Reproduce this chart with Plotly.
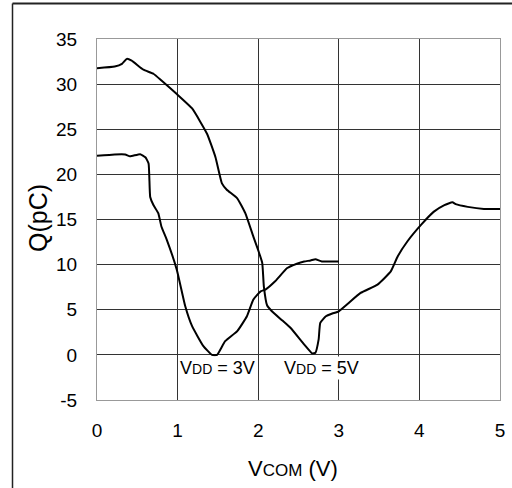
import plotly.graph_objects as go

# VDD = 3V curve
x_3v = [0.0, 0.22, 0.35, 0.41, 0.535, 0.6, 0.64, 0.66, 0.70, 0.76, 0.80, 0.866, 0.99, 1.095, 1.18, 1.32,
        1.427, 1.49, 1.59, 1.74, 1.86, 1.94, 2.03, 2.09, 2.21, 2.36, 2.48, 2.57, 2.65, 2.71, 2.79, 3.0]
q_3v = [22.05, 22.2, 22.2, 22.0, 22.24, 21.9, 21.2, 17.5, 16.6, 15.7, 14.2, 12.75, 9.44, 5.39, 3.18, 0.97,
        0.0, 0.0, 1.52, 2.63, 4.28, 6.13, 7.04, 7.23, 8.15, 9.62, 10.1, 10.35, 10.46, 10.6, 10.35, 10.35]

# VDD = 5V curve
x_5v = [0.0, 0.22, 0.31, 0.37, 0.43, 0.576, 0.70, 0.80, 0.99, 1.18, 1.365, 1.47, 1.55, 1.61, 1.74, 1.84,
        1.94, 2.0, 2.05, 2.07, 2.11, 2.17, 2.30, 2.40, 2.57, 2.67, 2.71, 2.75, 2.77, 2.84, 2.92, 3.0,
        3.27, 3.48, 3.645, 3.73, 3.85, 4.02, 4.18, 4.31, 4.41, 4.45, 4.60, 4.80, 5.0]
q_5v = [31.77, 31.95, 32.25, 32.8, 32.6, 31.6, 31.15, 30.4, 28.9, 27.3, 24.5, 21.9, 19.0, 18.3, 17.35, 15.7,
        13.1, 11.6, 10.2, 7.6, 5.5, 4.83, 3.8, 3.0, 1.16, 0.17, 0.24, 1.71, 3.55, 4.28, 4.58, 4.83,
        6.86, 7.78, 9.25, 10.9, 12.56, 14.4, 15.87, 16.6, 16.9, 16.7, 16.4, 16.17, 16.17]

x_ticks = [0, 1, 2, 3, 4, 5]
y_ticks = [-5, 0, 5, 10, 15, 20, 25, 30, 35]
y_tick_labels = ["-5", "0", "5", "10", "15", "20", "25", "30", "35"]

FONT = "Arial, Liberation Sans, sans-serif"

fig = go.Figure()
fig.add_trace(go.Scatter(x=x_3v, y=q_3v, mode="lines",
                         line=dict(color="black", width=2, shape="spline", smoothing=0.4),
                         showlegend=False, hoverinfo="skip"))
fig.add_trace(go.Scatter(x=x_5v, y=q_5v, mode="lines",
                         line=dict(color="black", width=2, shape="spline", smoothing=0.4),
                         showlegend=False, hoverinfo="skip"))

fig.update_layout(
    width=512, height=488,
    margin=dict(l=97, r=12, t=39, b=88),
    paper_bgcolor="white", plot_bgcolor="white",
    font=dict(family=FONT, color="black", size=19),
    xaxis=dict(range=[0, 5], tickvals=x_ticks, ticks="", showgrid=True,
               gridcolor="#333", gridwidth=1, zeroline=False, automargin=False,
               showline=True, linecolor="#999", linewidth=1, mirror=True,
               tickfont=dict(size=19), ticklabelstandoff=13),
    yaxis=dict(range=[-5, 35], tickvals=y_ticks, ticktext=y_tick_labels, ticks="", showgrid=True,
               gridcolor="#333", gridwidth=1, zeroline=False, automargin=False,
               showline=True, linecolor="#999", linewidth=1, mirror=True,
               tickfont=dict(size=19), ticklabelstandoff=15),
)

fig.add_annotation(x=1.0, y=-1.43, xref="x", yref="y", xanchor="left", yanchor="middle",
                   text="V<span style='font-size:14px'>DD</span> = 3V", showarrow=False,
                   bgcolor="white", borderpad=1, font=dict(size=18))
fig.add_annotation(x=2.29, y=-1.43, xref="x", yref="y", xanchor="left", yanchor="middle",
                   text="V<span style='font-size:14px'>DD</span> = 5V", showarrow=False,
                   bgcolor="white", borderpad=1, font=dict(size=18))

# axis titles
fig.add_annotation(x=(38 - 97) / 403, y=(400 - 218) / 361, xref="paper", yref="paper",
                   xanchor="center", yanchor="middle", textangle=-90,
                   text="Q(pC)", showarrow=False, font=dict(size=25))
fig.add_annotation(x=(293 - 97) / 403, y=(400 - 468) / 361, xref="paper", yref="paper",
                   xanchor="center", yanchor="middle",
                   text="V<span style='font-size:17px'>COM</span> (V)", showarrow=False,
                   font=dict(size=22))

# outer frame lines
fig.add_shape(type="line", xref="paper", yref="paper",
              x0=(12.5 - 97) / 403, x1=(520 - 97) / 403, y0=(400 - 3.5) / 361, y1=(400 - 3.5) / 361,
              line=dict(color="#222", width=2))
fig.add_shape(type="line", xref="paper", yref="paper",
              x0=(12.5 - 97) / 403, x1=(12.5 - 97) / 403, y0=(400 - 3.5) / 361, y1=(400 - 500) / 361,
              line=dict(color="#222", width=1.5))

fig.write_html("out.html", config={"displayModeBar": False},
               post_script="document.body.style.margin='0';document.body.style.overflow='hidden';")
